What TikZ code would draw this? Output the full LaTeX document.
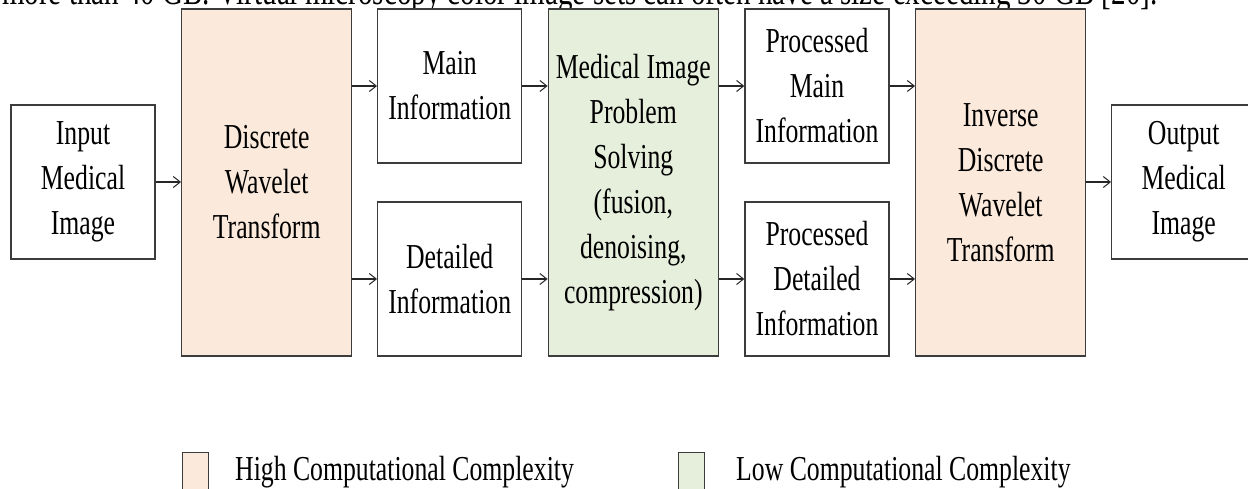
\documentclass[tikz,border=0pt]{standalone}
\usepackage{fontspec}
\setmainfont[FakeStretch=0.735]{Liberation Serif}
\usetikzlibrary{arrows.meta}
\definecolor{peach}{RGB}{251,233,219}
\definecolor{sage}{RGB}{230,238,220}
\definecolor{edgegray}{RGB}{60,60,60}
\tikzset{
  txt/.style={font=\fontsize{35}{45}\selectfont, align=center},
  box/.style={txt, draw=edgegray, line width=1.3pt, inner sep=0pt, fill=white},
  smallbox/.style={box, minimum width=144pt, minimum height=154pt},
  bigbox/.style={box, minimum width=170pt, minimum height=347pt},
  hot/.style={fill=peach},
  cool/.style={fill=sage},
  arr/.style={draw=black!85, line width=1.1pt, -{Straight Barb[length=7pt,width=11pt,line width=1pt]}},
  legbox/.style={draw=edgegray, line width=1.3pt, minimum width=26pt, minimum height=50pt, inner sep=0pt, anchor=north west}
}
\begin{document}
\begin{tikzpicture}[x=1pt,y=-1pt]
\clip (0,0) rectangle (1248,489);
\fill[white] (0,0) rectangle (1248,489);
% cut-off body text line at the top
\node[font=\fontsize{39.5}{45}\selectfont, anchor=base west, inner sep=0pt] (toptext) at (2,4.5) {more than 40 GB. Virtual microscopy color image sets can often have a size exceeding 30 GB [20].};
% boxes
\node[smallbox] (in) at (83,182) {Input\\Medical\\Image};
\node[bigbox, hot] (dwt) at (266.7,182.5) {Discrete\\Wavelet\\Transform};
\node[smallbox] (main) at (449.7,86) {Main\\Information};
\node[smallbox] (det) at (449.7,279) {Detailed\\Information};
\node[bigbox, cool] (mip) at (633.3,182.5) {Medical Image\\Problem\\Solving\\(fusion,\\denoising,\\compression)};
\node[smallbox] (pmain) at (817,86) {Processed\\Main\\Information};
\node[smallbox] (pdet) at (817,279) {Processed\\Detailed\\Information};
\node[bigbox, hot] (idwt) at (1000.7,182.5) {Inverse\\Discrete\\Wavelet\\Transform};
\node[smallbox] (out) at (1183.7,182) {Output\\Medical\\Image};
% connectors
\draw[arr] (in.east) -- (in.east -| dwt.west);
\draw[arr] (main.west -| dwt.east) -- (main.west);
\draw[arr] (det.west -| dwt.east) -- (det.west);
\draw[arr] (main.east) -- (main.east -| mip.west);
\draw[arr] (det.east) -- (det.east -| mip.west);
\draw[arr] (pmain.west -| mip.east) -- (pmain.west);
\draw[arr] (pdet.west -| mip.east) -- (pdet.west);
\draw[arr] (pmain.east) -- (pmain.east -| idwt.west);
\draw[arr] (pdet.east) -- (pdet.east -| idwt.west);
\draw[arr] (out.west -| idwt.east) -- (out.west);
% legend
\node[legbox, fill=peach] (lhigh) at (181.7,451.7) {};
\node[txt, anchor=base west, inner sep=0pt] (lhightext) at (235,480) {High Computational Complexity};
\node[legbox, fill=sage] (llow) at (678,451.7) {};
\node[txt, anchor=base west, inner sep=0pt] (llowtext) at (736,480) {Low Computational Complexity};
\end{tikzpicture}
\end{document}
